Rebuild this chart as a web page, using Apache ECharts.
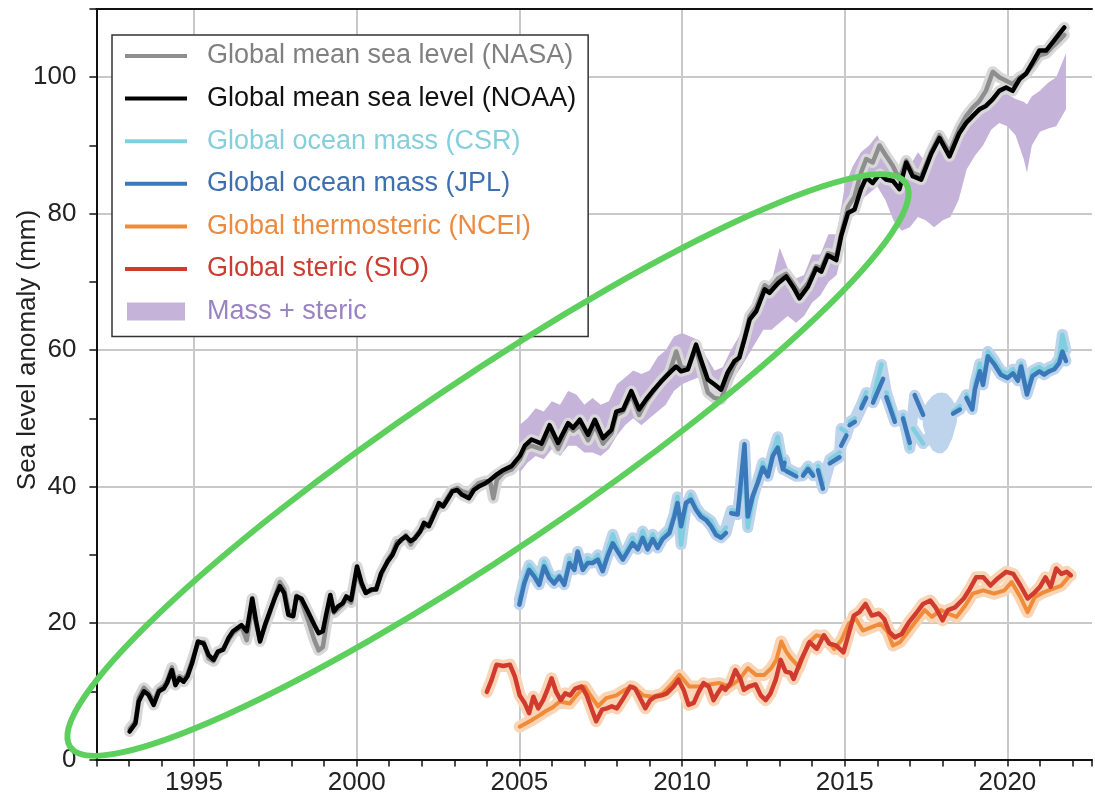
<!DOCTYPE html>
<html>
<head>
<meta charset="utf-8">
<script src="https://cdn.jsdelivr.net/npm/echarts@6/dist/echarts.min.js"></script>
<style>
  html, body { margin: 0; padding: 0; background: #fff; }
  #chart { width: 1095px; height: 805px; }
</style>
</head>
<body>
<div id="chart"></div>
<script>
// Global mean sea level (NOAA), [decimal year, mm]
const gmslNoaa = [
  [1993.02,4.1],[1993.2,5.3],[1993.3,8.5],[1993.46,10.0],[1993.6,9.5],[1993.76,8.0],[1993.92,10.0],
  [1994.07,10.4],[1994.17,11.2],[1994.32,13.1],[1994.43,10.9],[1994.55,11.9],[1994.68,11.4],[1994.8,12.2],[1994.94,14.1],
  [1995.12,17.3],[1995.3,17.0],[1995.45,15.3],[1995.6,14.6],[1995.73,15.8],[1995.9,16.1],
  [1996.06,17.8],[1996.2,18.8],[1996.46,19.7],[1996.62,18.8],[1996.79,23.6],[1996.9,20.5],
  [1997.03,17.3],[1997.18,19.7],[1997.33,21.7],[1997.48,23.6],[1997.64,25.4],[1997.77,24.4],[1997.9,21.2],
  [1998.05,21.0],[1998.15,23.9],[1998.3,23.6],[1998.5,21.7],[1998.7,19.7],[1998.83,18.5],[1998.96,18.8],
  [1999.06,21.2],[1999.19,24.1],[1999.3,21.7],[1999.42,22.4],[1999.57,22.9],[1999.68,23.9],[1999.83,23.4],
  [2000.01,28.3],[2000.15,25.9],[2000.28,24.4],[2000.44,24.9],[2000.6,24.9],[2000.75,27.3],[2000.95,29.0],
  [2001.1,30.0],[2001.24,31.5],[2001.36,32.2],[2001.51,32.7],[2001.66,32.0],[2001.79,32.4],[2001.95,33.4],
  [2002.07,34.7],[2002.22,34.2],[2002.38,35.9],[2002.53,37.6],[2002.66,37.1],[2002.79,38.1],[2002.94,39.3],
  [2003.09,39.5],[2003.24,38.8],[2003.45,38.3],[2003.6,39.5],[2003.75,40.0],[2003.96,40.5],
  [2004.11,41.0],[2004.31,41.8],[2004.5,42.4],[2004.76,43.0],
  [2005.02,44.5],[2005.17,46.0],[2005.37,46.9],[2005.68,46.3],[2005.93,49.0],
  [2006.19,46.4],[2006.5,49.3],[2006.65,48.6],[2006.86,49.8],
  [2007.11,47.6],[2007.32,49.8],[2007.57,47.1],[2007.83,48.3],[2007.98,51.0],
  [2008.19,51.3],[2008.44,54.0],[2008.68,51.3],[2008.9,52.8],
  [2009.1,54.0],[2009.36,55.4],[2009.62,56.7],[2009.82,57.6],[2009.97,56.9],
  [2010.18,57.2],[2010.43,60.8],[2010.58,58.6],[2010.79,55.7],[2010.99,55.0],
  [2011.2,54.2],[2011.4,56.7],[2011.61,58.4],[2011.76,58.9],[2011.92,61.6],
  [2012.08,64.5],[2012.28,65.7],[2012.54,68.9],[2012.69,68.4],[2012.95,69.8],
  [2013.2,70.8],[2013.41,69.3],[2013.61,67.6],[2013.87,69.3],
  [2014.12,72.0],[2014.28,71.5],[2014.48,73.9],[2014.74,73.2],[2014.89,76.7],
  [2015.1,80.1],[2015.3,80.6],[2015.5,83.6],[2015.66,85.3],[2015.86,84.5],
  [2016.07,85.8],[2016.27,85.0],[2016.48,84.8],[2016.68,83.6],[2016.89,87.5],
  [2017.09,85.5],[2017.35,85.0],[2017.65,88.7],[2017.91,91.1],
  [2018.22,88.4],[2018.52,91.8],[2018.73,93.3],[2018.93,94.3],
  [2019.14,95.3],[2019.34,95.8],[2019.55,96.8],[2019.75,98.0],[2019.96,98.5],
  [2020.16,98.0],[2020.37,99.7],[2020.57,100.5],[2020.78,102.2],[2020.98,103.9],
  [2021.19,103.9],[2021.39,105.1],[2021.55,106.1],[2021.75,107.3]
];

// Global mean sea level (NASA)
const gmslNasa = [
  [1993.02,4.5],[1993.2,5.6],[1993.3,9.0],[1993.46,10.5],[1993.6,9.8],[1993.76,8.5],[1993.92,10.3],
  [1994.07,10.8],[1994.17,11.5],[1994.32,13.5],[1994.43,11.5],[1994.55,12.2],[1994.68,11.8],[1994.8,12.5],[1994.94,14.5],
  [1995.12,17.0],[1995.3,17.2],[1995.45,14.8],[1995.6,14.4],[1995.73,15.6],[1995.9,16.3],
  [1996.06,17.5],[1996.2,18.5],[1996.46,19.5],[1996.62,17.5],[1996.79,22.5],[1996.9,20.0],
  [1997.03,17.5],[1997.18,19.5],[1997.33,21.5],[1997.48,23.8],[1997.64,26.0],[1997.77,25.0],[1997.9,22.0],
  [1998.05,21.2],[1998.15,24.0],[1998.3,23.2],[1998.5,20.5],[1998.7,17.5],[1998.83,16.0],[1998.96,16.5],
  [1999.06,19.5],[1999.19,23.0],[1999.3,21.5],[1999.42,22.0],[1999.57,22.7],[1999.68,23.5],[1999.83,23.0],
  [2000.01,27.5],[2000.15,25.5],[2000.28,24.5],[2000.44,24.7],[2000.6,25.2],[2000.75,27.0],[2000.95,29.2],
  [2001.1,30.3],[2001.24,32.0],[2001.36,32.0],[2001.51,32.9],[2001.66,31.5],[2001.79,32.6],[2001.95,33.6],
  [2002.07,34.0],[2002.22,34.5],[2002.38,36.2],[2002.53,37.0],[2002.66,37.4],[2002.79,38.4],[2002.94,39.5],
  [2003.09,39.8],[2003.24,39.3],[2003.45,39.0],[2003.6,39.8],[2003.75,40.5],[2003.96,40.8],
  [2004.11,40.5],[2004.2,38.3],[2004.31,41.0],[2004.5,42.0],[2004.76,42.5],
  [2005.02,44.0],[2005.17,45.6],[2005.37,46.0],[2005.68,45.5],[2005.93,48.0],
  [2006.19,45.5],[2006.5,48.8],[2006.65,48.2],[2006.86,49.0],
  [2007.11,46.8],[2007.32,49.0],[2007.57,46.3],[2007.83,47.8],[2007.98,50.5],
  [2008.19,51.0],[2008.44,53.5],[2008.68,50.5],[2008.9,52.5],
  [2009.1,53.8],[2009.36,55.5],[2009.62,56.8],[2009.82,59.8],[2009.97,57.5],
  [2010.18,57.3],[2010.43,60.3],[2010.58,57.5],[2010.79,53.8],[2010.99,53.0],
  [2011.2,52.8],[2011.4,55.5],[2011.61,57.8],[2011.76,59.0],[2011.92,61.8],
  [2012.08,65.0],[2012.28,66.3],[2012.54,69.5],[2012.69,69.0],[2012.95,70.5],
  [2013.2,71.2],[2013.41,69.8],[2013.61,68.3],[2013.87,69.8],
  [2014.12,72.3],[2014.28,72.0],[2014.48,74.2],[2014.74,73.8],[2014.89,77.0],
  [2015.1,81.0],[2015.3,82.5],[2015.5,86.0],[2015.66,88.0],[2015.86,87.5],
  [2016.07,90.0],[2016.27,88.5],[2016.48,87.0],[2016.68,85.0],[2016.89,87.8],
  [2017.09,86.0],[2017.35,85.5],[2017.65,89.0],[2017.91,91.5],
  [2018.22,89.0],[2018.52,92.5],[2018.73,94.3],[2018.93,95.5],
  [2019.14,96.5],[2019.34,98.0],[2019.55,100.8],[2019.75,100.0],[2019.96,99.5],
  [2020.16,99.0],[2020.37,100.0],[2020.57,100.5],[2020.78,101.8],[2020.98,103.2],
  [2021.19,103.5],[2021.39,104.5],[2021.55,105.2],[2021.75,106.2]
];

// Global ocean mass (JPL); null marks missing months
const massJpl = [
  [2005.0,22.7],[2005.15,25.8],[2005.3,27.8],[2005.46,26.8],[2005.61,25.6],[2005.76,28.3],[2005.92,26.6],
  [2006.07,25.8],[2006.23,26.8],[2006.38,25.6],[2006.54,28.8],[2006.69,27.8],[2006.79,30.5],[2006.95,27.8],
  [2007.1,28.8],[2007.25,28.8],[2007.41,29.3],[2007.56,27.6],[2007.71,29.8],[2007.87,31.7],
  [2008.02,30.5],[2008.18,29.3],[2008.33,30.5],[2008.48,31.7],[2008.64,30.8],[2008.79,32.5],[2008.94,30.8],
  [2009.1,32.3],[2009.25,31.0],[2009.4,32.3],[2009.61,33.2],[2009.76,35.6],[2009.86,37.6],[2009.97,34.2],
  [2010.12,37.6],[2010.27,38.1],[2010.43,36.6],[2010.58,35.6],[2010.74,35.1],[2010.89,34.2],
  [2011.05,32.9],[2011.2,32.5],[2011.35,33.2],[2011.42,null],[2011.51,36.1],[2011.71,35.9],[2011.92,46.2],
  [2012.02,35.6],[2012.17,38.6],[2012.33,40.6],[2012.48,42.8],[2012.64,41.5],[2012.79,44.5],[2012.94,45.7],
  [2013.1,42.5],[2013.15,43.5],[2013.18,null],[2013.2,42.3],[2013.51,41.5],[2013.6,null],
  [2013.72,41.6],[2013.87,42.6],[2014.03,41.6],[2014.1,null],[2014.18,42.4],[2014.33,39.7],[2014.45,null],
  [2014.54,43.4],[2014.84,44.3],[2014.87,null],[2014.89,46.0],[2015.05,47.5],[2015.1,null],
  [2015.15,49.0],[2015.31,49.5],[2015.4,null],[2015.51,51.5],[2015.66,53.0],[2015.77,null],
  [2015.87,52.3],[2016.18,55.8],[2016.23,null],[2016.28,53.1],[2016.54,49.5],[2016.67,null],
  [2016.79,50.0],[2017.0,46.4],[2017.08,null],[2017.15,53.4],[2017.41,50.5],[2017.9,null],
  [2018.33,50.7],[2018.54,51.3],[2018.64,null],[2018.74,53.0],[2018.92,51.3],
  [2019.0,54.2],[2019.15,56.9],[2019.25,54.9],[2019.4,59.1],[2019.6,57.9],[2019.8,56.4],
  [2020.0,55.9],[2020.17,56.6],[2020.32,55.5],[2020.42,57.6],[2020.6,53.5],[2020.77,56.2],[2020.98,56.9],
  [2021.13,56.4],[2021.28,56.9],[2021.44,57.2],[2021.59,58.1],[2021.69,59.8],[2021.8,58.4]
];

// Global ocean mass (CSR)
const massCsr = [
  [2005.0,23.5],[2005.15,26.5],[2005.3,28.5],[2005.46,27.5],[2005.61,26.2],[2005.76,29.0],[2005.92,27.2],
  [2006.07,26.5],[2006.23,27.0],[2006.38,26.0],[2006.54,29.5],[2006.69,28.2],[2006.79,30.0],[2006.95,28.0],
  [2007.1,29.5],[2007.25,29.0],[2007.41,30.0],[2007.56,28.0],[2007.71,30.5],[2007.87,33.0],
  [2008.02,31.0],[2008.18,29.8],[2008.33,31.0],[2008.48,32.5],[2008.64,31.0],[2008.79,33.5],[2008.94,31.5],
  [2009.1,33.0],[2009.25,31.5],[2009.4,32.8],[2009.61,33.8],[2009.76,36.0],[2009.86,38.5],[2009.97,31.5],
  [2010.12,37.0],[2010.27,38.8],[2010.43,37.0],[2010.58,36.0],[2010.74,35.5],[2010.89,35.0],
  [2011.05,33.5],[2011.2,33.0],[2011.35,34.0],[2011.42,null],[2011.51,36.5],[2011.71,36.5],[2011.92,42.0],
  [2012.02,34.0],[2012.17,38.0],[2012.33,41.0],[2012.48,43.5],[2012.64,42.0],[2012.79,45.0],[2012.94,47.3],
  [2013.1,43.0],[2013.15,44.0],[2013.18,null],[2013.2,42.8],[2013.51,42.0],[2013.6,null],
  [2013.72,42.0],[2013.87,43.0],[2014.03,42.0],[2014.1,null],[2014.18,43.0],[2014.33,40.5],[2014.45,null],
  [2014.54,44.0],[2014.84,45.0],[2014.87,null],[2014.89,48.5],[2015.05,48.0],[2015.1,null],
  [2015.15,49.5],[2015.31,50.0],[2015.4,null],[2015.51,52.0],[2015.66,53.8],[2015.77,null],
  [2015.87,53.0],[2016.13,57.9],[2016.23,null],[2016.28,53.8],[2016.54,50.0],[2016.67,null],
  [2016.79,50.5],[2017.0,45.6],[2017.08,null],[2017.1,48.5],[2017.41,46.3],[2017.9,null],
  [2018.33,51.0],[2018.54,51.8],[2018.64,null],[2018.74,53.5],[2018.92,51.8],
  [2019.0,55.0],[2019.15,58.0],[2019.25,55.5],[2019.4,59.8],[2019.6,58.5],[2019.8,57.0],
  [2020.0,56.5],[2020.17,57.2],[2020.32,56.0],[2020.42,58.0],[2020.6,54.0],[2020.77,57.0],[2020.98,57.5],
  [2021.13,57.0],[2021.28,57.5],[2021.44,57.8],[2021.59,58.8],[2021.69,62.3],[2021.8,60.0]
];

// Ocean mass uncertainty across the 2017-2018 mission gap
const massGapYears = [2017.4, 2017.55, 2017.7, 2017.85, 2018.0, 2018.15, 2018.3, 2018.45];
const massGapLow   = [49.0, 46.5, 45.3, 44.9, 44.9, 45.5, 47.0, 49.5];
const massGapHigh  = [51.5, 52.5, 53.3, 53.7, 53.8, 53.6, 52.8, 51.5];

// Global steric (SIO)
const stericSio = [
  [2004.0,9.9],[2004.15,11.7],[2004.3,13.9],[2004.5,13.7],[2004.71,13.9],[2004.86,12.2],
  [2005.01,9.4],[2005.17,8.2],[2005.3,6.8],[2005.43,9.2],[2005.58,7.5],[2005.73,8.7],[2005.86,10.2],[2005.99,11.9],
  [2006.13,9.9],[2006.27,8.7],[2006.41,9.7],[2006.56,9.4],[2006.72,10.4],[2006.92,10.7],
  [2007.07,9.4],[2007.23,7.3],[2007.36,5.6],[2007.54,7.3],[2007.69,7.5],[2007.84,7.8],
  [2008.0,7.5],[2008.2,9.0],[2008.41,10.7],[2008.56,10.4],[2008.71,9.0],[2008.87,7.5],
  [2009.02,8.7],[2009.17,9.2],[2009.38,9.4],[2009.53,9.7],[2009.74,10.7],[2009.89,11.7],
  [2010.05,10.2],[2010.2,8.0],[2010.36,8.3],[2010.51,9.9],[2010.66,11.2],[2010.82,10.7],[2010.97,8.7],
  [2011.12,9.9],[2011.23,10.7],[2011.33,10.2],[2011.49,11.2],[2011.64,13.1],[2011.8,11.7],[2011.9,10.2],
  [2012.06,10.7],[2012.26,11.0],[2012.42,9.4],[2012.57,8.7],[2012.72,9.7],[2012.88,11.7],
  [2013.03,14.6],[2013.18,12.9],[2013.34,12.7],[2013.43,11.8],[2013.65,14.5],[2013.92,17.2],
  [2014.14,16.2],[2014.36,18.2],[2014.52,17.0],[2014.74,16.7],[2014.96,15.7],
  [2015.12,18.4],[2015.28,21.1],[2015.45,21.6],[2015.64,22.8],[2015.83,21.1],
  [2016.05,21.4],[2016.21,20.6],[2016.37,18.7],[2016.54,17.9],[2016.75,18.4],[2016.97,20.1],
  [2017.19,21.4],[2017.41,22.8],[2017.63,23.3],[2017.79,22.3],
  [2018.01,20.4],[2018.17,21.9],[2018.39,22.3],[2018.66,23.6],[2018.82,24.8],
  [2019.04,26.7],[2019.26,26.7],[2019.48,25.5],[2019.69,26.5],[2019.96,27.5],
  [2020.18,27.2],[2020.4,25.5],[2020.62,23.6],[2020.84,24.5],
  [2021.0,25.3],[2021.17,26.7],[2021.33,25.3],[2021.5,28.0],[2021.66,27.2],[2021.82,27.5],[2021.95,27.0]
];

// Global thermosteric (NCEI)
const thermoNcei = [
  [2005.01,4.8],[2005.32,5.6],[2005.63,6.5],[2005.78,7.0],[2006.04,7.7],[2006.24,8.5],[2006.55,8.2],[2006.75,9.4],
  [2007.01,10.7],[2007.21,9.2],[2007.42,7.8],[2007.67,9.0],[2007.98,9.4],[2008.24,10.2],[2008.49,10.7],[2008.8,9.4],
  [2009.1,9.2],[2009.41,9.7],[2009.71,11.2],[2009.92,12.4],[2010.22,10.7],[2010.53,10.7],[2010.84,11.0],
  [2011.15,11.2],[2011.45,10.7],[2011.76,11.7],[2012.02,13.4],[2012.27,12.4],[2012.53,12.4],[2012.74,13.4],[2012.9,14.6],
  [2013.05,17.3],[2013.2,15.8],[2013.32,15.0],[2013.6,13.5],[2013.87,17.0],[2014.14,18.2],[2014.41,17.9],
  [2014.68,16.2],[2014.9,17.5],[2015.12,19.9],[2015.34,20.6],[2015.56,18.9],[2015.83,19.4],[2016.1,19.9],
  [2016.32,18.7],[2016.48,16.7],[2016.7,17.2],[2016.97,18.9],[2017.24,20.6],[2017.46,21.9],[2017.68,20.9],
  [2017.95,21.9],[2018.17,21.4],[2018.44,20.9],[2018.71,22.6],[2018.93,24.3],[2019.26,24.8],[2019.59,24.3],
  [2019.91,24.8],[2020.13,26.0],[2020.4,23.8],[2020.62,21.6],[2020.84,23.8],[2021.11,24.5],[2021.39,25.0],
  [2021.66,25.5],[2021.87,26.7]
];

// Mass + steric envelope
const massStericYears = [
  2005.0, 2005.25, 2005.5, 2005.75, 2006.0, 2006.25, 2006.5, 2006.75, 2007.0, 2007.25, 2007.5, 2007.75,
  2008.0, 2008.25, 2008.5, 2008.75, 2009.0, 2009.25, 2009.5, 2009.75, 2010.0, 2010.25, 2010.5, 2010.75,
  2011.0, 2011.25, 2011.5, 2011.75, 2012.0, 2012.25, 2012.5, 2012.75, 2013.0, 2013.25, 2013.5, 2013.75,
  2014.0, 2014.25, 2014.5, 2014.75, 2015.0, 2015.25, 2015.5, 2015.75, 2016.0, 2016.25, 2016.5, 2016.75,
  2017.0, 2017.25, 2017.5, 2017.75, 2018.0, 2018.25, 2018.5, 2018.75, 2019.0, 2019.25, 2019.5, 2019.75,
  2020.0, 2020.25, 2020.5, 2020.6, 2020.75, 2021.0, 2021.25, 2021.5, 2021.8
];
const massStericLow = [
  42, 43.5, 44.5, 44, 45.5, 44.5, 46, 46, 45, 45, 44.5, 45.5,
  47.5, 49, 50, 49, 50, 51, 52, 54, 55, 55.5, 56, 54,
  53, 53.5, 55.5, 57, 59, 61, 63, 63, 64, 65, 64, 65,
  67, 68, 70, 71, 76, 80, 82, 83, 84, 82, 79, 77.5,
  78, 79.5, 79, 78, 79, 79.5, 82, 86.5, 88.5, 90, 92.3, 93.3,
  92.8, 91.5, 88, 86, 90, 92, 92.5, 92.8, 95.3
];
const massStericHigh = [
  49, 50, 51.5, 51, 52.5, 52, 54, 53.5, 52, 53, 52, 52.5,
  55, 56, 57, 56.5, 57, 59, 60, 62, 62.5, 62, 61.5, 59,
  57, 57.5, 60, 62, 65, 67, 70, 70, 75, 72, 70.5, 71,
  74, 74, 77, 77, 84, 87, 89, 90, 91.5, 89, 87, 86,
  87, 89, 87.5, 90, 91, 89.5, 91.5, 93, 94, 95.5, 97, 97.5,
  97.5, 96.8, 96.4, 96, 97.2, 98, 99.2, 100, 103.5
];

const legendNames = [
  'Global mean sea level (NASA)',
  'Global mean sea level (NOAA)',
  'Global ocean mass (CSR)',
  'Global ocean mass (JPL)',
  'Global thermosteric (NCEI)',
  'Global steric (SIO)',
  'Mass + steric'
];

const FONT = '"Liberation Sans", Arial, Helvetica, sans-serif';
const C = {
  nasa: '#8e8e8e', noaa: '#000000', csr: '#7fcfdf', jpl: '#3a78b9',
  ncei: '#f08b3a', sio: '#d13a2e', massSteric: '#c6b3da',
  greyBand: '#d8d8d8', blueBand: '#bdd4ec', orangeBand: '#f9d5b5'
};
const legendTextColors = ['#808080', '#111111', '#84cfdc', '#3e6fae', '#ec8a3f', '#cc3c31', '#9b82c3'];

// Year grid: a split line every fifth year, counted from 1992
const xGridColors = ['rgba(0,0,0,0)', 'rgba(0,0,0,0)', 'rgba(0,0,0,0)', '#c9c9c9', 'rgba(0,0,0,0)'];

function bandRenderer(xs, lo, hi, fill) {
  return function (params, api) {
    const pts = [];
    for (let i = 0; i < xs.length; i++) pts.push(api.coord([xs[i], hi[i]]));
    for (let i = xs.length - 1; i >= 0; i--) pts.push(api.coord([xs[i], lo[i]]));
    return { type: 'polygon', shape: { points: pts }, style: { fill: fill } };
  };
}

function lineSeries(name, data, color, width, extra) {
  return Object.assign({
    type: 'line', name: name, data: data, symbol: 'none', showSymbol: false,
    connectNulls: false, silent: true, animation: false,
    lineStyle: { color: color, width: width, join: 'round', cap: 'round' },
    itemStyle: { color: color }
  }, extra || {});
}

const lineIcon = 'path://M0,0 M0,7 L62,7 L62,11 L0,11 Z M62,18';
const rectIcon = 'path://M0,0 M2,0 L60,0 L60,18 L2,18 Z M62,18';

const chart = echarts.init(document.getElementById('chart'), null, { renderer: 'canvas' });

chart.setOption({
  animation: false,
  backgroundColor: '#ffffff',
  grid: { left: 96.4, right: 2.6, top: 9, bottom: 45.5, containLabel: false },
  xAxis: [{
    type: 'value', min: 1992, max: 2022.6, interval: 1, position: 'bottom',
    axisLine: { show: true, onZero: false, lineStyle: { color: '#111', width: 2 } },
    axisTick: { show: true, length: 7, lineStyle: { color: '#111', width: 1.5 } },
    axisLabel: {
      formatter: function (v) { return (Math.abs(v % 5) < 1e-6) ? String(v) : ''; },
      fontSize: 26, fontFamily: FONT, color: '#222', margin: 10
    },
    splitLine: { show: true, lineStyle: { color: xGridColors, width: 2 } }
  }, {
    type: 'value', min: 1992, max: 2022.6, position: 'top',
    axisLine: { show: true, onZero: false, lineStyle: { color: '#111', width: 2 } },
    axisTick: { show: false }, axisLabel: { show: false }, splitLine: { show: false }
  }],
  yAxis: {
    type: 'value', min: 0, max: 110, interval: 10,
    axisLine: { show: true, onZero: false, lineStyle: { color: '#111', width: 2 } },
    axisTick: { show: true, length: 7, lineStyle: { color: '#111', width: 1.5 } },
    axisLabel: {
      formatter: function (v) { return (v % 20 === 0 && v <= 100) ? String(v) : ''; },
      fontSize: 26, fontFamily: FONT, color: '#222', margin: 20
    },
    splitLine: { show: true, lineStyle: { color: ['#c9c9c9', 'rgba(0,0,0,0)'], width: 2 } }
  },
  legend: {
    orient: 'vertical', left: 112, top: 35,
    padding: [6, 12, 10, 13],
    backgroundColor: '#ffffff', borderColor: '#333', borderWidth: 1.5, borderRadius: 0,
    itemWidth: 62, itemHeight: 18, itemGap: 12.6,
    selectedMode: false,
    itemStyle: { borderWidth: 0 },
    textStyle: { fontSize: 27, fontFamily: FONT, lineHeight: 30, padding: [0, 0, 0, 15] },
    data: legendNames.map(function (n, i) {
      return { name: n, icon: i === 6 ? rectIcon : lineIcon, textStyle: { color: legendTextColors[i] } };
    }),
    z: 10
  },
  graphic: [
    {
      type: 'text', x: 28, y: 350, rotation: Math.PI / 2, silent: true,
      style: {
        text: 'Sea level anomaly (mm)', font: '26px ' + FONT, fill: '#222',
        textAlign: 'center', textVerticalAlign: 'middle'
      }
    },
    {
      type: 'ellipse', x: 488, y: 465, rotation: 34 * Math.PI / 180, silent: true, z: 100,
      shape: { cx: 0, cy: 0, rx: 504, ry: 86 },
      style: { fill: 'none', stroke: '#5ccf5c', lineWidth: 6 }
    }
  ],
  series: [
    {
      type: 'custom', name: 'Mass + steric', coordinateSystem: 'cartesian2d', silent: true,
      data: [[massStericYears[0], massStericLow[0]]],
      itemStyle: { color: C.massSteric },
      renderItem: bandRenderer(massStericYears, massStericLow, massStericHigh, C.massSteric)
    },
    lineSeries('NASA band', gmslNasa, C.greyBand, 11),
    lineSeries('NOAA band', gmslNoaa, C.greyBand, 11),
    lineSeries(legendNames[0], gmslNasa, C.nasa, 4.5),
    lineSeries(legendNames[1], gmslNoaa, C.noaa, 4.5),
    {
      type: 'custom', name: 'Mass gap band', coordinateSystem: 'cartesian2d', silent: true,
      data: [[massGapYears[0], massGapLow[0]]],
      itemStyle: { color: C.blueBand },
      renderItem: bandRenderer(massGapYears, massGapLow, massGapHigh, C.blueBand)
    },
    lineSeries('CSR band', massCsr, C.blueBand, 11, { connectNulls: true }),
    lineSeries('JPL band', massJpl, C.blueBand, 11, { connectNulls: true }),
    lineSeries(legendNames[2], massCsr, C.csr, 4.5),
    lineSeries(legendNames[3], massJpl, C.jpl, 4.5),
    lineSeries('SIO band', stericSio, C.orangeBand, 12),
    lineSeries('NCEI band', thermoNcei, C.orangeBand, 12),
    lineSeries(legendNames[4], thermoNcei, C.ncei, 4),
    lineSeries(legendNames[5], stericSio, C.sio, 4.5)
  ]
});
</script>
</body>
</html>
